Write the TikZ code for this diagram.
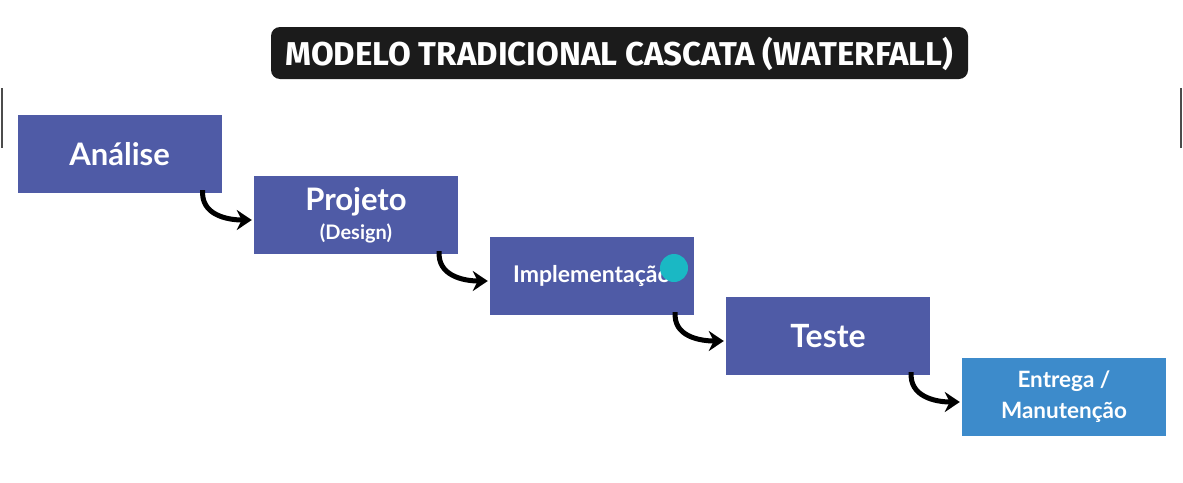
\documentclass[tikz,border=0pt]{standalone}
\usepackage{fontspec}
\setmainfont{Lato}
\newfontfamily\titlefont{Fira Sans}
\usetikzlibrary{arrows.meta,calc}
\definecolor{boxblue}{RGB}{79,91,166}
\definecolor{lightblue}{RGB}{61,139,203}
\definecolor{titlebg}{RGB}{27,27,27}
\definecolor{dotcol}{RGB}{26,184,196}
\tikzset{
  stage/.style={fill=boxblue, draw=none, minimum width=204pt, minimum height=78pt, inner sep=0pt, text=white, font=\bfseries, align=center},
  arr/.style={line width=5pt, black, -{Stealth[length=15pt,width=20pt]}},
  edge/.style={line width=1.5pt, black!70}
}
\begin{document}
\begin{tikzpicture}[x=1pt,y=-1pt]
\useasboundingbox[fill=white] (0,0) rectangle (1183,482);
% edge artifacts
\draw[edge] (2,88) -- (2,148);
\draw[edge] (1181,88) -- (1181,148);
% title
\node[fill=titlebg, rounded corners=9pt, minimum width=697pt, minimum height=52pt, inner sep=0pt] (title) at (619.5,53) {};
\node[text=white, inner sep=0pt] (titletext) at (619.5,54) {\resizebox{668pt}{!}{\titlefont\bfseries MODELO TRADICIONAL CASCATA (WATERFALL)}};
% stages
\node[stage, font=\bfseries\fontsize{31}{36}\selectfont] (a) at (119.5,154) {Análise};
\node[stage] (b) at (356,215) {{\fontsize{31}{36}\selectfont Projeto}\\[7pt]{\fontsize{20}{22}\selectfont (Design)}};
\node[stage, font=\bfseries\fontsize{23}{26}\selectfont] (c) at (592,276) {Implementação};
\node[stage, font=\bfseries\fontsize{32}{36}\selectfont] (d) at (828,336) {Teste};
\node[stage, fill=lightblue, font=\bfseries\fontsize{22.5}{31}\selectfont] (e) at (1064,397) {Entrega /\\Manutenção};
% cursor dot
\fill[dotcol] (674,268) circle (14pt);
% arrows
\foreach \p/\q in {a/b,b/c,c/d,d/e}{
  \draw[arr] ([xshift=-19pt,yshift=3pt]\p.south east) to[out=-95,in=180,looseness=1.1] ([xshift=-2pt,yshift=-5pt]\q.west);
}
\end{tikzpicture}
\end{document}
